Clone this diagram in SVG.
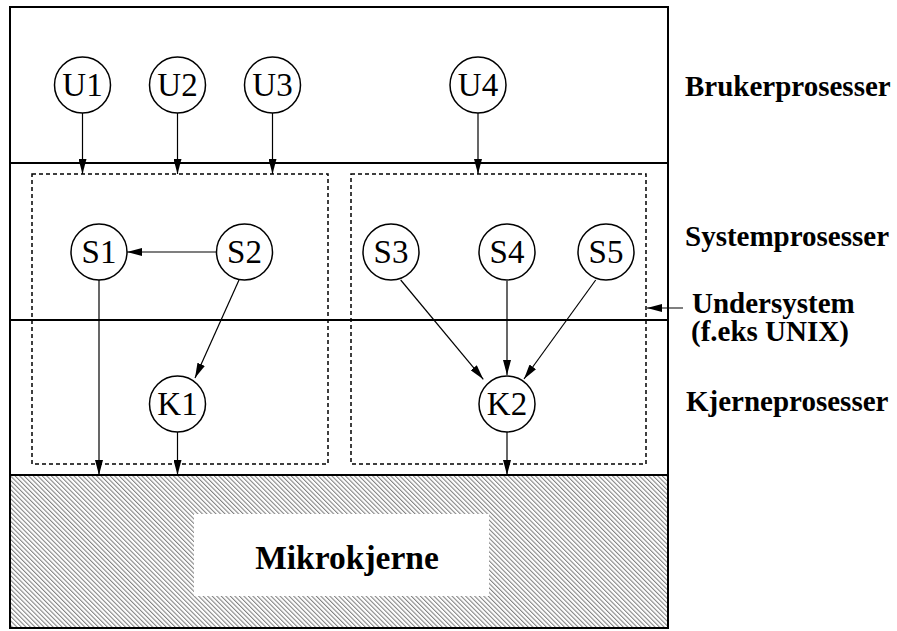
<svg xmlns="http://www.w3.org/2000/svg" width="897" height="631" viewBox="0 0 897 631">
  <defs>
    <!-- diagonal hatch for the microkernel layer -->
    <pattern id="hatch" patternUnits="userSpaceOnUse" width="3.2" height="10" patternTransform="rotate(-45)">
      <line x1="0.6" y1="0" x2="0.6" y2="10" stroke="#444" stroke-width="0.8"/>
    </pattern>
    <marker id="arr" markerUnits="userSpaceOnUse" markerWidth="15" markerHeight="8" refX="15" refY="4" orient="auto">
      <path d="M0,0 L15,4 L0,8 Z" fill="#000"/>
    </marker>
  </defs>
  <style>
    .frame { fill: none; stroke: #000; stroke-width: 2; }
    .sep { stroke: #000; stroke-width: 2; }
    .sub { fill: none; stroke: #000; stroke-width: 1.5; stroke-dasharray: 4 3; }
    .node circle { fill: #fff; stroke: #000; stroke-width: 1.5; }
    .node text { font-family: "Liberation Serif", "Times New Roman", serif; font-size: 33px; text-anchor: middle; fill: #000; }
    .edge { stroke: #000; stroke-width: 1.2; fill: none; marker-end: url(#arr); }
    .label { font-family: "Liberation Serif", "Times New Roman", serif; font-weight: bold; font-size: 29px; fill: #000; }
  </style>

  <rect width="897" height="631" fill="#fff"/>

  <!-- microkernel layer -->
  <g id="mikrokjerne">
    <rect x="10" y="475" width="658" height="153" fill="url(#hatch)"/>
    <rect x="194" y="514" width="295" height="82" fill="#fff"/>
    <text x="347" y="569" class="label" style="font-size:33.5px" text-anchor="middle">Mikrokjerne</text>
  </g>

  <!-- layers -->
  <g id="layers">
    <rect x="10" y="7" width="658" height="621" class="frame"/>
    <line x1="10" y1="163" x2="668" y2="163" class="sep"/>
    <line x1="10" y1="320" x2="668" y2="320" class="sep"/>
    <line x1="10" y1="475" x2="668" y2="475" class="sep"/>
  </g>

  <!-- subsystems -->
  <g id="subsystems">
    <rect x="32" y="174" width="296" height="290" class="sub"/>
    <rect x="351" y="174" width="295" height="290" class="sub"/>
  </g>

  <!-- connectors -->
  <g id="connectors">
    <line x1="82.5" y1="113" x2="82.5" y2="174" class="edge"/>
    <line x1="177.5" y1="113" x2="177.5" y2="174" class="edge"/>
    <line x1="272.5" y1="113" x2="272.5" y2="174" class="edge"/>
    <line x1="478" y1="113" x2="478" y2="174" class="edge"/>
    <line x1="216.5" y1="252" x2="127" y2="252" class="edge"/>
    <line x1="239" y1="280" x2="195" y2="378" class="edge"/>
    <line x1="99" y1="280" x2="99" y2="475" class="edge"/>
    <line x1="177.5" y1="432" x2="177.5" y2="475" class="edge"/>
    <line x1="400.7" y1="280" x2="483.3" y2="379.3" class="edge"/>
    <line x1="507" y1="281" x2="507" y2="375" class="edge"/>
    <line x1="595.7" y1="280" x2="524" y2="379" class="edge"/>
    <line x1="507" y1="432" x2="507" y2="475" class="edge"/>
    <line x1="683" y1="308" x2="647" y2="308" class="edge"/>
  </g>

  <!-- user processes -->
  <g id="U1" class="node"><circle cx="82.5" cy="85" r="28"/><text x="82.5" y="96">U1</text></g>
  <g id="U2" class="node"><circle cx="177.5" cy="85" r="28"/><text x="177.5" y="96">U2</text></g>
  <g id="U3" class="node"><circle cx="272.5" cy="85" r="28"/><text x="272.5" y="96">U3</text></g>
  <g id="U4" class="node"><circle cx="478" cy="85" r="28"/><text x="478" y="96">U4</text></g>

  <!-- system processes -->
  <g id="S1" class="node"><circle cx="99" cy="252" r="28"/><text x="99" y="263">S1</text></g>
  <g id="S2" class="node"><circle cx="244.5" cy="252" r="28"/><text x="244.5" y="263">S2</text></g>
  <g id="S3" class="node"><circle cx="391" cy="252" r="28"/><text x="391" y="263">S3</text></g>
  <g id="S4" class="node"><circle cx="507" cy="252" r="28"/><text x="507" y="263">S4</text></g>
  <g id="S5" class="node"><circle cx="606" cy="252" r="28"/><text x="606" y="263">S5</text></g>

  <!-- kernel processes -->
  <g id="K1" class="node"><circle cx="177.5" cy="404" r="28"/><text x="177.5" y="415">K1</text></g>
  <g id="K2" class="node"><circle cx="507" cy="404" r="28"/><text x="507" y="415">K2</text></g>

  <!-- layer labels -->
  <g id="labels">
    <text x="685" y="96" class="label">Brukerprosesser</text>
    <text x="685" y="246" class="label">Systemprosesser</text>
    <text class="label"><tspan x="692" y="313">Undersystem</tspan><tspan x="691" dy="28">(f.eks UNIX)</tspan></text>
    <text x="686" y="411" class="label">Kjerneprosesser</text>
  </g>
</svg>
